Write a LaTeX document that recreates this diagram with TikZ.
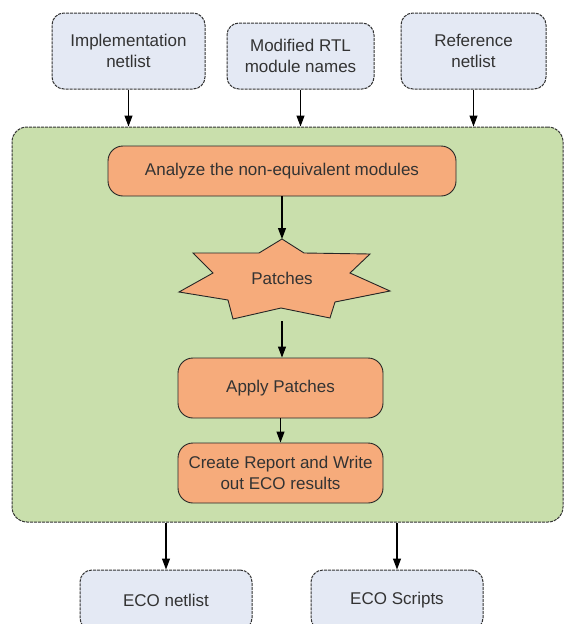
\documentclass[tikz,border=0pt]{standalone}
\usepackage{fontspec}
\setmainfont{Liberation Sans}
\usetikzlibrary{arrows.meta}
\definecolor{iofill}{HTML}{E4E9F4}
\definecolor{flowfill}{HTML}{C9DFAC}
\definecolor{stepfill}{HTML}{F6AB7B}
\definecolor{textgray}{HTML}{333333}
\begin{document}
\begin{tikzpicture}[x=1pt,y=1pt,
  font=\fontsize{17}{21.5}\selectfont,
  iobox/.style={draw=black!80, fill=iofill, rounded corners=12pt,
    dash pattern=on 3pt off 1pt, line width=1pt, text=textgray,
    align=center, inner sep=0pt},
  stepbox/.style={draw=black!85, fill=stepfill, rounded corners=15pt,
    line width=0.9pt, text=textgray, align=center, inner sep=0pt},
  flow/.style={draw=black, line width=1.1pt,
    -{Triangle[length=11pt,width=8pt]}}
]
\useasboundingbox (0,0) rectangle (565,-624);
\fill[white] (0,0) rectangle (565,-624);

% main processing area
\node[draw=black!80, fill=flowfill, rounded corners=15pt,
  dash pattern=on 3pt off 1pt, line width=1pt, inner sep=0pt,
  minimum width=551pt, minimum height=395pt] (main) at (287.5,-324.5) {};

% inputs
\node[iobox, minimum width=153pt, minimum height=76pt] (impl) at (128.5,-51)
  {Implementation\\netlist};
\node[iobox, minimum width=147pt, minimum height=66pt] (rtl) at (300.5,-56)
  {Modified RTL\\module names};
\node[iobox, minimum width=145pt, minimum height=76pt] (ref) at (473.5,-51)
  {Reference\\netlist};

% steps
\node[stepbox, minimum width=348pt, minimum height=50pt] (analyze) at (282,-171)
  {Analyze the non-equivalent modules};

\draw[draw=black!85, fill=stepfill, line width=0.9pt, line join=miter]
  (282,-239) -- (304,-253) -- (370,-254) -- (350,-273) -- (390,-291)
  -- (335,-302) -- (330,-318) -- (281,-308) -- (233,-319) -- (228,-300)
  -- (179,-292) -- (213,-273) -- (193,-253) -- (259,-253) -- cycle;
\node[text=textgray] (patches) at (282,-278) {Patches};
\coordinate (startop) at (282,-239);
\coordinate (starbot) at (282,-321);

\node[stepbox, minimum width=205pt, minimum height=60pt] (apply) at (280.5,-388)
  {Apply Patches};
\node[stepbox, minimum width=205pt, minimum height=60pt] (create) at (280.5,-473)
  {Create Report and Write\\out ECO results};

% outputs
\node[iobox, minimum width=172pt, minimum height=60pt] (ecnet) at (166,-600)
  {ECO netlist};
\node[iobox, minimum width=172pt, minimum height=60pt] (ecscr) at (397,-600)
  {ECO Scripts};

% connectors
\draw[flow] (impl.south) -- (impl.south |- main.north);
\draw[flow] (rtl.south) -- (rtl.south |- main.north);
\draw[flow] (ref.south) -- (ref.south |- main.north);
\draw[flow] (analyze.south -| startop) -- (startop);
\draw[flow] (starbot) -- (starbot |- apply.north);
\draw[flow] (apply.south) -- (create.north);
\draw[flow] (main.south -| ecnet.north) -- (ecnet.north);
\draw[flow] (main.south -| ecscr.north) -- (ecscr.north);
\end{tikzpicture}
\end{document}
